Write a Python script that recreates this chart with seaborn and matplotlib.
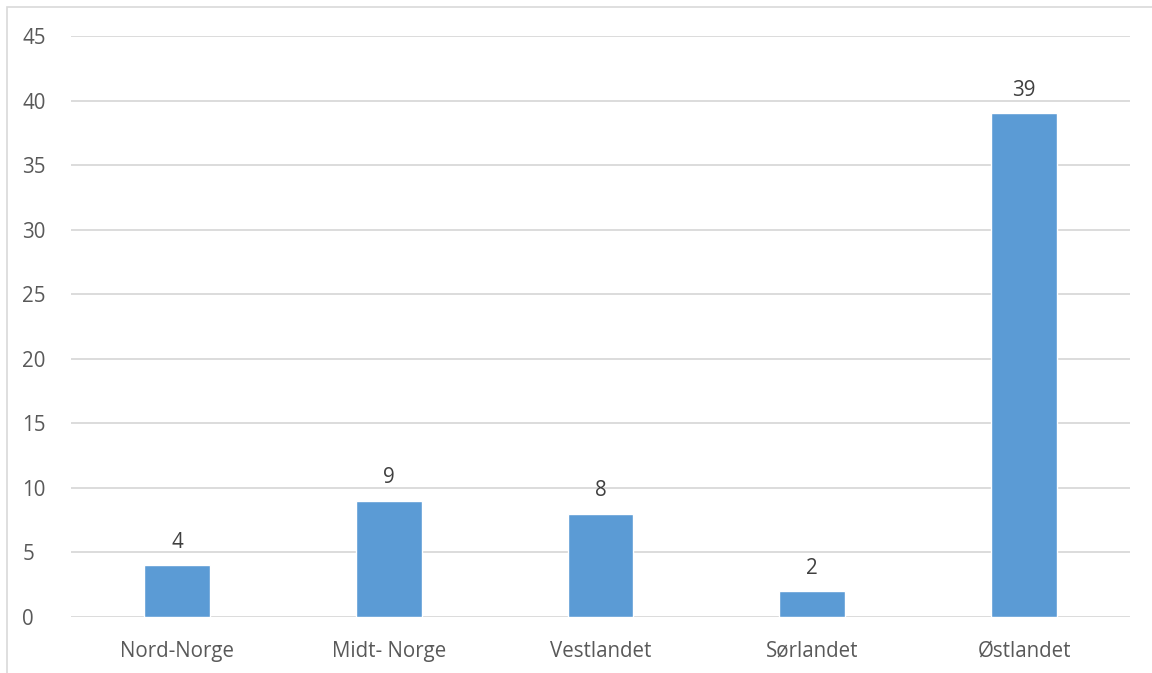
import matplotlib
matplotlib.use("Agg")
import matplotlib.pyplot as plt
import seaborn as sns
import pandas as pd
from matplotlib.patches import Rectangle

categories = ["Nord-Norge", "Midt- Norge", "Vestlandet", "Sørlandet", "Østlandet"]
values = [4, 9, 8, 2, 39]
yticks = [0, 5, 10, 15, 20, 25, 30, 35, 40, 45]

sns.set_theme(style="white")
plt.rcParams['font.family'] = ['Open Sans', 'DejaVu Sans']

df = pd.DataFrame({"region": categories, "count": values})

fig = plt.figure(figsize=(11.52, 6.73), dpi=100)
ax = fig.add_axes([71/1152, 1-617/673, (1130-71)/1152, (617-36)/673])

sns.barplot(data=df, x="region", y="count", color="#5B9BD5", width=0.31,
            saturation=1, ax=ax, zorder=3)

ax.set_ylim(0, 45)
ax.set_yticks(yticks)
ax.set_xlim(-0.5, len(categories) - 0.5)
ax.yaxis.grid(True, color="#d9d9d9", linewidth=1.3, zorder=0)
ax.xaxis.grid(False)
for s in ax.spines.values():
    s.set_visible(False)
ax.set_xlabel("")
ax.set_ylabel("")
ax.tick_params(axis="both", length=0, labelsize=14.8, colors="#595959")
ax.tick_params(axis="y", pad=35)
ax.tick_params(axis="x", pad=17)
for lbl in ax.get_yticklabels():
    lbl.set_horizontalalignment("left")

for c in ax.containers:
    ax.bar_label(c, labels=[str(v) for v in values], padding=9,
                 fontsize=14.8, color="#404040")

fig.patches.append(Rectangle((7/1152, -0.1), 1.2, 1.1 - 7/673, transform=fig.transFigure,
                             fill=False, edgecolor="#d9d9d9", linewidth=1.2))

fig.savefig("out.png", dpi=100)
